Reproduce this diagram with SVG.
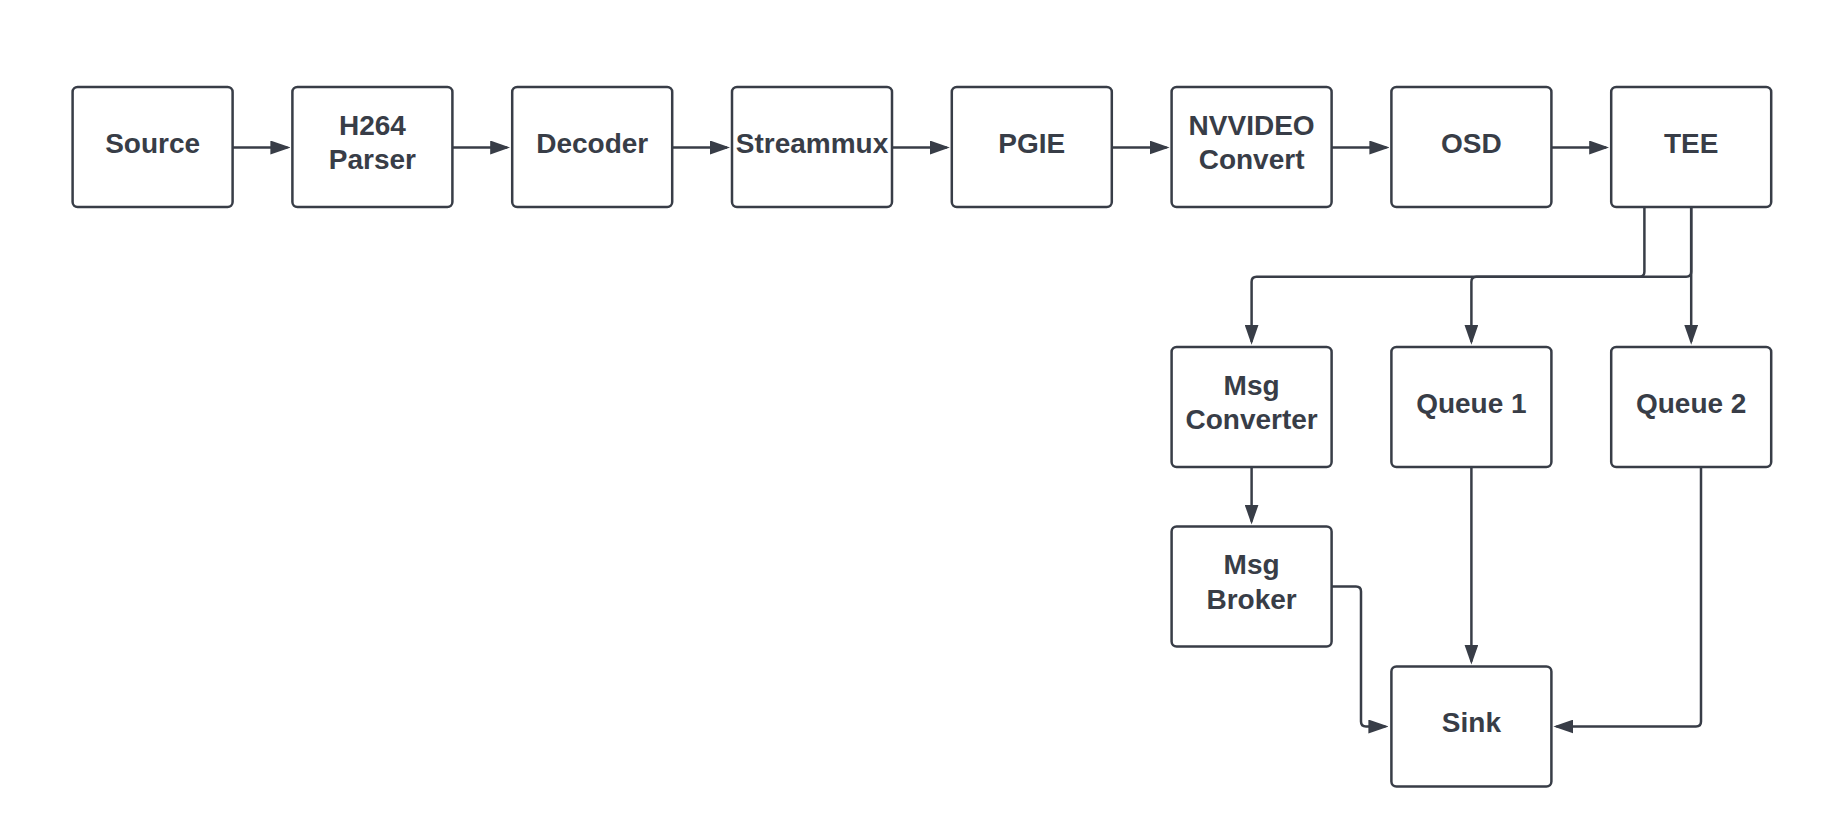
<svg xmlns="http://www.w3.org/2000/svg" width="1834" height="837" viewBox="0 0 1834 837">
  <defs>
    <marker id="arr" markerWidth="20" markerHeight="14" refX="17" refY="7" orient="auto" markerUnits="userSpaceOnUse">
      <path d="M0,0 L20,7 L0,14 z" fill="#383d47"/>
    </marker>
    <style>
      .box { fill: #ffffff; stroke: #383d47; stroke-width: 2.5; }
      .lbl { font-family: "Liberation Sans", Arial, sans-serif; font-weight: bold; font-size: 28px; fill: #383d47; text-anchor: middle; }
      .conn { fill: none; stroke: #383d47; stroke-width: 2.5; marker-end: url(#arr); }
    </style>
  </defs>
  <rect width="1834" height="837" fill="#ffffff"/>

  <g id="connectors">
    <path class="conn" d="M232.6,147.5 H287.4"/>
    <path class="conn" d="M452.4,147.5 H507.2"/>
    <path class="conn" d="M672.2,147.5 H727"/>
    <path class="conn" d="M892,147.5 H946.8"/>
    <path class="conn" d="M1111.8,147.5 H1166.6"/>
    <path class="conn" d="M1331.6,147.5 H1386.4"/>
    <path class="conn" d="M1551.4,147.5 H1606.2"/>
    <path class="conn" d="M1644.4,207 V271.7 Q1644.4,276.7 1639.4,276.7 H1256.6 Q1251.6,276.7 1251.6,281.7 V341.7"/>
    <path class="conn" d="M1691.2,207 V271.7 Q1691.2,276.7 1686.2,276.7 H1476.4 Q1471.4,276.7 1471.4,281.7 V341.7"/>
    <path class="conn" d="M1691.2,207 V341.7"/>
    <path class="conn" d="M1251.6,467 V521.5"/>
    <path class="conn" d="M1471.4,467 V661.5"/>
    <path class="conn" d="M1331.6,586.5 H1356 Q1361,586.5 1361,591.5 V721.5 Q1361,726.5 1366,726.5 H1385.4"/>
    <path class="conn" d="M1701,467 V721.5 Q1701,726.5 1696,726.5 H1556.4"/>
  </g>

  <g id="source">
    <rect class="box" x="72.6" y="87" width="160" height="120" rx="5"/>
    <text class="lbl" x="152.6" y="152.5">Source</text>
  </g>
  <g id="h264parser">
    <rect class="box" x="292.4" y="87" width="160" height="120" rx="5"/>
    <text class="lbl" x="372.4" y="134.5">H264</text>
    <text class="lbl" x="372.4" y="168.5">Parser</text>
  </g>
  <g id="decoder">
    <rect class="box" x="512.2" y="87" width="160" height="120" rx="5"/>
    <text class="lbl" x="592.2" y="152.5">Decoder</text>
  </g>
  <g id="streammux">
    <rect class="box" x="732" y="87" width="160" height="120" rx="5"/>
    <text class="lbl" x="812" y="152.5">Streammux</text>
  </g>
  <g id="pgie">
    <rect class="box" x="951.8" y="87" width="160" height="120" rx="5"/>
    <text class="lbl" x="1031.8" y="152.5">PGIE</text>
  </g>
  <g id="nvvideoconvert">
    <rect class="box" x="1171.6" y="87" width="160" height="120" rx="5"/>
    <text class="lbl" x="1251.6" y="134.5">NVVIDEO</text>
    <text class="lbl" x="1251.6" y="168.5">Convert</text>
  </g>
  <g id="osd">
    <rect class="box" x="1391.4" y="87" width="160" height="120" rx="5"/>
    <text class="lbl" x="1471.4" y="152.5">OSD</text>
  </g>
  <g id="tee">
    <rect class="box" x="1611.2" y="87" width="160" height="120" rx="5"/>
    <text class="lbl" x="1691.2" y="152.5">TEE</text>
  </g>
  <g id="msgconverter">
    <rect class="box" x="1171.6" y="347" width="160" height="120" rx="5"/>
    <text class="lbl" x="1251.6" y="394.5">Msg</text>
    <text class="lbl" x="1251.6" y="429">Converter</text>
  </g>
  <g id="queue1">
    <rect class="box" x="1391.4" y="347" width="160" height="120" rx="5"/>
    <text class="lbl" x="1471.4" y="412.5">Queue 1</text>
  </g>
  <g id="queue2">
    <rect class="box" x="1611.2" y="347" width="160" height="120" rx="5"/>
    <text class="lbl" x="1691.2" y="412.5">Queue 2</text>
  </g>
  <g id="msgbroker">
    <rect class="box" x="1171.6" y="526.5" width="160" height="120" rx="5"/>
    <text class="lbl" x="1251.6" y="574">Msg</text>
    <text class="lbl" x="1251.6" y="608.5">Broker</text>
  </g>
  <g id="sink">
    <rect class="box" x="1391.4" y="666.5" width="160" height="120" rx="5"/>
    <text class="lbl" x="1471.4" y="731.5">Sink</text>
  </g>
</svg>
